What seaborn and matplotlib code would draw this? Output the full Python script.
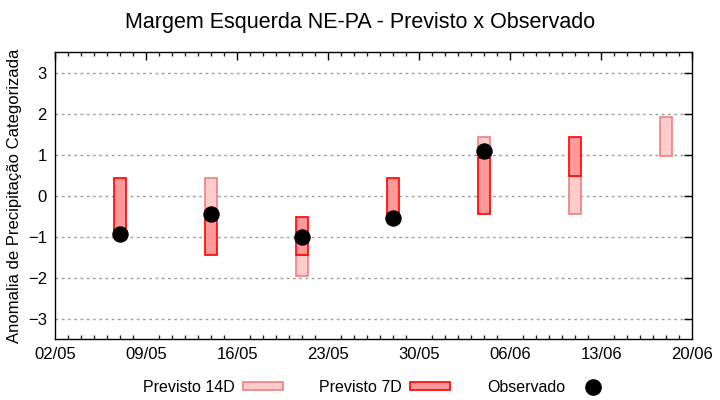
import matplotlib
matplotlib.use("Agg")
import matplotlib.pyplot as plt
import matplotlib.dates as mdates
from matplotlib.patches import Patch
from matplotlib.lines import Line2D
import seaborn as sns
import pandas as pd
import numpy as np

# ---- data ----
weeks = ["07/05", "14/05", "21/05", "28/05", "04/06", "11/06", "18/06"]
prev14_low = [np.nan, -0.45, -1.95, np.nan, 0.93, -0.45, 0.98]
prev14_high = [np.nan, 0.43, -1.45, np.nan, 1.43, 0.49, 1.93]
prev7_low = [-0.93, -1.45, -1.45, -0.55, -0.45, 0.49, np.nan]
prev7_high = [0.43, -0.45, -0.53, 0.43, 0.93, 1.43, np.nan]
observado = [-0.93, -0.45, -1.0, -0.55, 1.08, np.nan, np.nan]
xtick_labels = ["02/05", "09/05", "16/05", "23/05", "30/05", "06/06", "13/06", "20/06"]
title = "Margem Esquerda NE-PA - Previsto x Observado"
ylabel = "Anomalia de Precipitação Categorizada"

sns.set_style("white")
plt.rcParams["font.family"] = ["Liberation Sans", "DejaVu Sans"]
plt.rcParams["text.color"] = "black"
plt.rcParams["axes.labelcolor"] = "black"

year = "2024"
dates = pd.to_datetime([w + "/" + year for w in weeks], format="%d/%m/%Y")
tick_dates = pd.to_datetime([t + "/" + year for t in xtick_labels], format="%d/%m/%Y")

df = pd.DataFrame({
    "date": dates,
    "p14_lo": prev14_low, "p14_hi": prev14_high,
    "p7_lo": prev7_low, "p7_hi": prev7_high,
    "obs": observado,
})

fig = plt.figure(figsize=(7.2, 4.0), dpi=100)
ax = fig.add_axes([55.3 / 720, 1 - 339 / 400, (692.3 - 55.3) / 720, (339 - 52.3) / 400])

c14_face, c14_edge = "#ffcccc", "#f08080"
c7_face, c7_edge = "#ff9999", "#ff0000"
width = 0.93

ax.set_axisbelow(True)
ax.yaxis.grid(True, linestyle=(0, (2, 2.5)), color="#a0a0a0", linewidth=1)

m14 = df["p14_lo"].notna()
ax.bar(df.loc[m14, "date"], df.loc[m14, "p14_hi"] - df.loc[m14, "p14_lo"],
       bottom=df.loc[m14, "p14_lo"], width=width,
       color=c14_face, edgecolor=c14_edge, linewidth=1.2, zorder=2)
m7 = df["p7_lo"].notna()
ax.bar(df.loc[m7, "date"], df.loc[m7, "p7_hi"] - df.loc[m7, "p7_lo"],
       bottom=df.loc[m7, "p7_lo"], width=width,
       color=c7_face, edgecolor=c7_edge, linewidth=1.2, zorder=3)

sns.scatterplot(data=df.dropna(subset=["obs"]), x="date", y="obs", ax=ax,
                color="black", s=140, edgecolor="black", linewidth=0, zorder=4,
                legend=False)

ax.set_xlim(tick_dates[0], tick_dates[-1])
ax.set_ylim(-3.5, 3.5)
ax.set_xticks(tick_dates)
ax.set_xticklabels(xtick_labels)
ax.xaxis.set_minor_locator(mdates.DayLocator())
ax.set_yticks([-3, -2, -1, 0, 1, 2, 3])
ax.tick_params(axis="both", which="major", direction="in", length=6, width=1,
               labelsize=12, top=True, right=True, pad=6, colors="black")
ax.tick_params(axis="x", which="minor", direction="in", length=3, width=1,
               top=True, bottom=True)
for s in ax.spines.values():
    s.set_color("black")
    s.set_linewidth(1)
ax.set_xlabel("")
ax.set_ylabel(ylabel, fontsize=12, labelpad=4, color="black")
fig.suptitle(title, fontsize=15.5, y=0.97, color="black")

handles = [
    Patch(facecolor=c14_face, edgecolor=c14_edge, linewidth=1.2),
    Patch(facecolor=c7_face, edgecolor=c7_edge, linewidth=1.2),
    Line2D([], [], marker="o", linestyle="none", color="black", markersize=11),
]
labels = ["Previsto 14D", "Previsto 7D", "Observado"]
fig.legend(handles, labels, loc="center", bbox_to_anchor=(0.525, 0.032), ncol=3,
           markerfirst=False, frameon=False, fontsize=11.5, handlelength=2.5,
           handleheight=0.45, columnspacing=2.3, handletextpad=0.5)

fig.savefig("out.png", dpi=100)
